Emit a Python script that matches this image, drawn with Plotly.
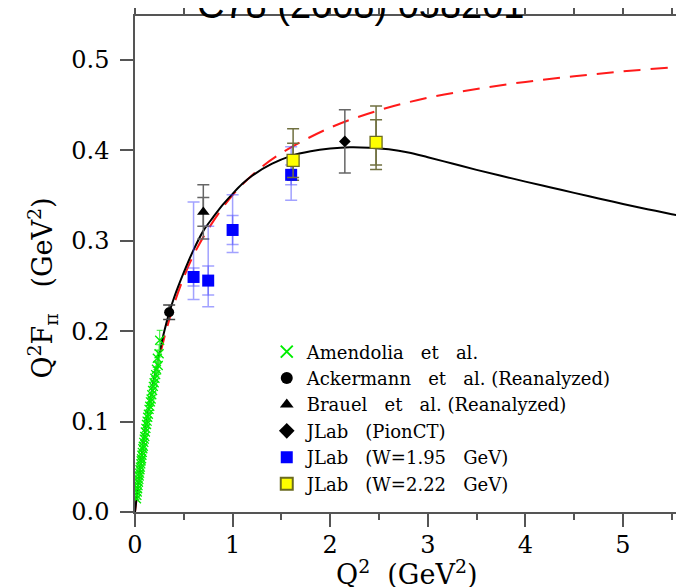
import plotly.graph_objects as go

# ---------------- data ----------------
# Amendolia et al.
amen_q2 = [0.015, 0.019, 0.023, 0.027, 0.031, 0.035, 0.039, 0.043, 0.047, 0.051,
           0.055, 0.059, 0.063, 0.067, 0.071, 0.075, 0.080, 0.085, 0.090, 0.095,
           0.100, 0.106, 0.112, 0.118, 0.124, 0.130, 0.137, 0.144, 0.151, 0.158,
           0.165, 0.172, 0.180, 0.188, 0.196, 0.204, 0.212, 0.220, 0.229, 0.238,
           0.247, 0.253]
amen_val = [0.0146, 0.0184, 0.0221, 0.0258, 0.0292, 0.0330, 0.0361, 0.0398, 0.0430, 0.0468,
            0.0496, 0.0532, 0.0566, 0.0590, 0.0628, 0.0660, 0.0700, 0.0728, 0.0770, 0.0806,
            0.0836, 0.0885, 0.0925, 0.0968, 0.1005, 0.1048, 0.1082, 0.1135, 0.1170, 0.1218,
            0.1250, 0.1298, 0.1345, 0.1390, 0.1430, 0.1480, 0.1520, 0.1580, 0.1700, 0.1620,
            0.1750, 0.1900]
amen_err = [0.0008, 0.0008, 0.0009, 0.0009, 0.0010, 0.0010, 0.0011, 0.0012, 0.0012, 0.0013,
            0.0014, 0.0015, 0.0016, 0.0017, 0.0018, 0.0019, 0.0020, 0.0022, 0.0024, 0.0026,
            0.0028, 0.0030, 0.0032, 0.0034, 0.0036, 0.0038, 0.0040, 0.0043, 0.0046, 0.0050,
            0.0054, 0.0058, 0.0062, 0.0066, 0.0070, 0.0075, 0.0080, 0.0085, 0.0090, 0.0095,
            0.0100, 0.0110]

# Ackermann et al. (Reanalyzed)
ack_q2 = [0.35]
ack_val = [0.221]
ack_err = [0.008]

# Brauel et al. (Reanalyzed)
brauel_q2 = [0.70]
brauel_val = [0.332]
brauel_err_stat = [0.016]
brauel_err_tot = [0.030]

# JLab (PionCT)
pionct_q2 = [2.15]
pionct_val = [0.410]
pionct_err = [0.035]

# JLab (W=1.95 GeV)
w195_q2 = [0.60, 0.75, 1.00, 1.60]
w195_val = [0.260, 0.256, 0.312, 0.373]
w195_err_stat = [0.010, 0.016, 0.016, 0.011]
w195_err_plus = [0.083, 0.060, 0.039, 0.031]
w195_err_minus = [0.025, 0.029, 0.025, 0.028]

# JLab (W=2.22 GeV)
w222_q2 = [1.62, 2.47]
w222_val = [0.389, 0.409]
w222_err_stat = [0.019, 0.025]
w222_err_plus = [0.035, 0.040]
w222_err_minus = [0.022, 0.030]

# model curves
black_q2 = [0.0, 0.02, 0.05, 0.10, 0.15, 0.20, 0.25, 0.30, 0.35, 0.40, 0.50, 0.60,
            0.70, 0.80, 0.90, 1.00, 1.10, 1.20, 1.40, 1.60, 1.80, 2.00, 2.20, 2.40,
            2.60, 2.80, 3.00, 3.25, 3.50, 3.75, 4.00, 4.25, 4.50, 4.75, 5.00, 5.25,
            5.50, 5.70]
black_val = [0.0, 0.019, 0.046, 0.087, 0.120, 0.150, 0.176, 0.200, 0.220, 0.237, 0.265, 0.290,
             0.311, 0.326, 0.340, 0.352, 0.363, 0.372, 0.385, 0.394, 0.399, 0.402, 0.4035, 0.4030,
             0.4012, 0.3978, 0.3925, 0.3855, 0.3785, 0.3720, 0.3655, 0.3593, 0.3530, 0.3468,
             0.3408, 0.3350, 0.3295, 0.3250]

red_q2 = [0.0, 0.05, 0.10, 0.20, 0.30, 0.40, 0.50, 0.60, 0.75, 1.00, 1.25, 1.50,
          2.00, 2.50, 3.00, 3.50, 4.00, 4.50, 5.00, 5.50, 5.70]
red_val = [0.0, 0.0458, 0.0844, 0.1459, 0.1929, 0.2298, 0.2596, 0.2842, 0.3130, 0.3506,
           0.3774, 0.3970, 0.4252, 0.4444, 0.4582, 0.4680, 0.4758, 0.4820, 0.4874, 0.4919, 0.4933]

x_ticks = [0, 1, 2, 3, 4, 5]
y_ticks = [0.0, 0.1, 0.2, 0.3, 0.4, 0.5]

# ---------------- figure ----------------
SERIF = "DejaVu Serif"
AX = "#555555"
NB = "\u00a0"
GAP = NB * 3

fig = go.Figure()

fig.add_trace(go.Scatter(x=red_q2, y=red_val, mode="lines", line_shape="spline",
                         line=dict(color="#ff1a1a", width=2, dash="17px,10px"),
                         showlegend=False, hoverinfo="skip"))
fig.add_trace(go.Scatter(x=black_q2, y=black_val, mode="lines", line_shape="spline",
                         line=dict(color="black", width=2),
                         showlegend=False, hoverinfo="skip"))

# secondary (total) error bars drawn as invisible-marker traces
def err_only(x, y, plus, minus, color, w):
    fig.add_trace(go.Scatter(
        x=x, y=y, mode="markers", marker=dict(size=1, opacity=0),
        error_y=dict(type="data", array=plus, arrayminus=minus, symmetric=False,
                     color=color, thickness=1.5, width=w),
        showlegend=False, hoverinfo="skip"))

err_only(brauel_q2, brauel_val, brauel_err_tot, brauel_err_tot, "#666666", 6)
err_only(w195_q2, w195_val, w195_err_plus, w195_err_minus, "rgba(70,70,255,0.5)", 6)
err_only(w222_q2, w222_val, w222_err_plus, w222_err_minus, "#707040", 6)

fig.add_trace(go.Scatter(
    x=amen_q2, y=amen_val, mode="markers", name="Amendolia" + GAP + "et" + GAP + "al.",
    marker=dict(symbol="x-thin", size=9, line=dict(color="#00ee00", width=1.3)),
    error_y=dict(type="data", array=amen_err, color="#33ee33", thickness=1, width=3)))
fig.add_trace(go.Scatter(
    x=ack_q2, y=ack_val, mode="markers",
    name="Ackermann" + GAP + "et" + GAP + "al." + NB + "(Reanalyzed)",
    marker=dict(symbol="circle", size=10, color="black"),
    error_y=dict(type="data", array=ack_err, color="#444444", thickness=1.5, width=6)))
fig.add_trace(go.Scatter(
    x=brauel_q2, y=brauel_val, mode="markers",
    name="Brauel" + GAP + "et" + GAP + "al." + NB + "(Reanalyzed)",
    marker=dict(symbol="triangle-up", size=11, color="black"),
    error_y=dict(type="data", array=brauel_err_stat, color="#666666", thickness=1.5, width=6)))
fig.add_trace(go.Scatter(
    x=pionct_q2, y=pionct_val, mode="markers", name="JLab" + GAP + "(PionCT)",
    marker=dict(symbol="diamond", size=9, color="black"),
    error_y=dict(type="data", array=pionct_err, color="#666666", thickness=1.5, width=6)))
fig.add_trace(go.Scatter(
    x=w195_q2, y=w195_val, mode="markers", name="JLab" + GAP + "(W=1.95" + GAP + "GeV)",
    marker=dict(symbol="square", size=12, color="#0000ff"),
    error_y=dict(type="data", array=w195_err_stat, color="rgba(70,70,255,0.5)", thickness=1.5, width=6)))
fig.add_trace(go.Scatter(
    x=w222_q2, y=w222_val, mode="markers", name="JLab" + GAP + "(W=2.22" + GAP + "GeV)",
    marker=dict(symbol="square", size=12, color="#ffff00", line=dict(color="#6b6b20", width=1.3)),
    error_y=dict(type="data", array=w222_err_stat, color="#707040", thickness=1.5, width=6)))

# the page body adds an 8px offset, so the figure is 8px smaller and margins 8px less
fig.update_layout(
    width=676, height=579,
    margin=dict(l=127, r=0, t=8, b=75, autoexpand=False),
    paper_bgcolor="white", plot_bgcolor="white",
    font=dict(family=SERIF, color="black"),
    legend=dict(x=0.240, y=0.360, xanchor="left", yanchor="top",
                bgcolor="rgba(0,0,0,0)", font=dict(family=SERIF, size=18),
                tracegroupgap=0, itemsizing="constant"),
    xaxis=dict(range=[0, 5.625], tickvals=x_ticks, ticktext=[str(v) for v in x_ticks],
               ticks="outside", ticklen=13, tickwidth=1.5, tickcolor=AX,
               minor=dict(dtick=0.5, ticks="outside", ticklen=6, tickwidth=1.5, tickcolor=AX),
               showline=True, linecolor=AX, linewidth=1.5, mirror="ticks",
               showgrid=False, zeroline=False, automargin=False,
               ticklabelstandoff=-3,
               tickfont=dict(family=SERIF, size=24)),
    yaxis=dict(range=[0, 0.5487], tickvals=y_ticks, ticktext=["%.1f" % v for v in y_ticks],
               ticks="outside", ticklen=13, tickwidth=1.5, tickcolor=AX,
               showline=True, linecolor=AX, linewidth=1.5, mirror=False,
               showgrid=False, zeroline=False, automargin=False,
               ticklabelstandoff=6,
               tickfont=dict(family=SERIF, size=24)),
    annotations=[
        dict(text="C78 (2008) 058201", xref="paper", yref="paper",
             x=0.109, y=0.976, xanchor="left", yanchor="bottom", showarrow=False,
             font=dict(family="Liberation Sans", size=38, color="black")),
        dict(text="Q<sup>2</sup>" + NB + NB + "(GeV<sup>2</sup>)", xref="paper", yref="paper",
             x=0.495, y=-0.121, xanchor="center", yanchor="middle", showarrow=False,
             font=dict(family=SERIF, size=27, color="black")),
        dict(text="Q<sup>2</sup>F<sub>π</sub>" + NB * 3 + "(GeV<sup>2</sup>)",
             xref="paper", yref="paper", textangle=-90,
             x=-0.168, y=0.452, xanchor="center", yanchor="middle", showarrow=False,
             font=dict(family=SERIF, size=27, color="black")),
    ],
)

fig.write_html("out.html")
